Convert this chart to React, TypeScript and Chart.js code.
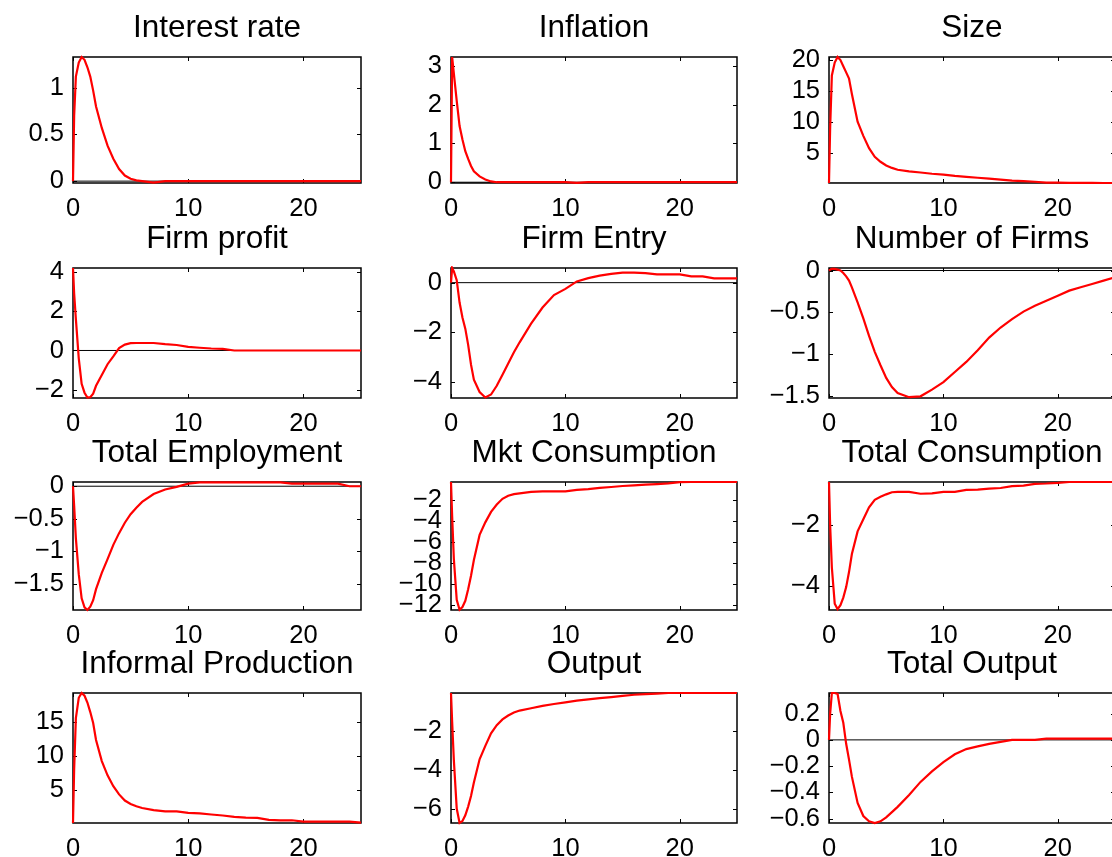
import React, { useEffect, useRef } from "react";
import { Chart, registerables } from "chart.js";

Chart.register(...registerables);

// ---------- data ----------
const X = [0, 0.1, 0.25, 0.5, 0.75, 1, 1.25, 1.5, 1.75, 2, 2.5, 3, 3.5, 4, 4.5, 5, 5.5, 6, 7, 8, 9, 10, 11, 12, 13, 14, 15, 16, 17, 18, 19, 20, 21, 22, 23, 24, 25];

const TITLES = [
  "Interest rate", "Inflation", "Size",
  "Firm profit", "Firm Entry", "Number of Firms",
  "Total Employment", "Mkt Consumption", "Total Consumption",
  "Informal Production", "Output", "Total Output",
];

const interestRate = [0, 0.7, 1.12, 1.27, 1.33, 1.3, 1.22, 1.12, 0.97, 0.8, 0.57, 0.38, 0.24, 0.13, 0.06, 0.025, 0.008, 0, -0.015, 0, 0, 0, 0, 0, 0, 0, 0, 0, 0, 0, 0, 0, 0, 0, 0, 0, 0];
const inflation = [0, 3.23, 2.8, 2.1, 1.45, 1.1, 0.8, 0.6, 0.42, 0.28, 0.15, 0.07, 0.02, 0, 0, 0, 0, 0, 0, 0, 0, 0, -0.015, 0, 0, 0, 0, 0, 0, 0, 0, 0, 0, 0, 0, 0, 0];
const size = [0.05, 9, 17.5, 19.6, 20.5, 20, 19, 18, 17, 14.5, 10, 7.7, 5.7, 4.3, 3.5, 2.9, 2.5, 2.2, 1.95, 1.75, 1.55, 1.4, 1.2, 1.05, 0.9, 0.75, 0.6, 0.45, 0.35, 0.25, 0.12, 0.1, 0.08, 0.07, 0.06, 0.05, 0.05];
const firmProfit = [4.2, 2.9, 1.6, -0.4, -1.7, -2.15, -2.4, -2.38, -2.2, -1.8, -1.25, -0.7, -0.3, 0.12, 0.3, 0.37, 0.38, 0.38, 0.38, 0.32, 0.28, 0.18, 0.14, 0.1, 0.08, 0, 0, 0, 0, 0, 0, 0, 0, 0, 0, 0, 0];
const firmEntry = [0, 0.59, 0.45, 0.1, -0.8, -1.4, -1.85, -2.5, -3.3, -3.9, -4.4, -4.62, -4.5, -4.15, -3.7, -3.25, -2.8, -2.4, -1.65, -1.0, -0.5, -0.25, 0.05, 0.18, 0.28, 0.35, 0.4, 0.4, 0.38, 0.33, 0.33, 0.33, 0.25, 0.25, 0.17, 0.17, 0.17];
const numberOfFirms = [0, 0.01, 0.02, 0.02, 0.01, 0, -0.03, -0.07, -0.12, -0.2, -0.38, -0.57, -0.78, -0.97, -1.13, -1.28, -1.39, -1.46, -1.51, -1.5, -1.42, -1.33, -1.21, -1.09, -0.95, -0.8, -0.68, -0.58, -0.49, -0.42, -0.36, -0.3, -0.24, -0.2, -0.16, -0.12, -0.08];
const totalEmployment = [0, -0.3, -0.8, -1.35, -1.72, -1.86, -1.9, -1.85, -1.75, -1.58, -1.33, -1.12, -0.9, -0.72, -0.56, -0.43, -0.33, -0.24, -0.12, -0.05, -0.01, 0.04, 0.06, 0.06, 0.06, 0.06, 0.06, 0.06, 0.06, 0.06, 0.04, 0.04, 0.04, 0.04, 0.04, 0, 0];
const mktConsumption = [-0.24, -3.5, -7.6, -11.5, -12.45, -12.2, -11.6, -10.5, -9.2, -7.7, -5.3, -4.1, -3.1, -2.4, -1.85, -1.55, -1.4, -1.33, -1.18, -1.14, -1.14, -1.14, -1.0, -0.92, -0.8, -0.72, -0.62, -0.56, -0.5, -0.45, -0.38, -0.26, -0.24, -0.24, -0.24, -0.24, -0.24];
const totalConsumption = [-0.56, -2.0, -3.4, -4.6, -4.78, -4.65, -4.4, -4.05, -3.55, -2.95, -2.2, -1.8, -1.4, -1.15, -1.05, -0.97, -0.9, -0.89, -0.89, -0.95, -0.94, -0.89, -0.89, -0.82, -0.81, -0.78, -0.76, -0.7, -0.68, -0.62, -0.61, -0.59, -0.56, -0.56, -0.56, -0.56, -0.56];
const informalProduction = [0.1, 8, 15.5, 18.5, 19.2, 18.8, 17.8, 16.4, 14.8, 12.3, 9.2, 7.1, 5.5, 4.3, 3.4, 2.9, 2.55, 2.3, 2.0, 1.8, 1.8, 1.6, 1.5, 1.35, 1.2, 1.0, 0.9, 0.85, 0.55, 0.5, 0.5, 0.3, 0.3, 0.3, 0.3, 0.3, 0.15];
const output = [-0.01, -1.5, -3.5, -6.0, -6.75, -6.65, -6.35, -5.9, -5.35, -4.65, -3.45, -2.75, -2.1, -1.68, -1.38, -1.18, -1.02, -0.92, -0.8, -0.68, -0.58, -0.5, -0.41, -0.34, -0.28, -0.22, -0.16, -0.1, -0.07, -0.04, -0.01, -0.01, -0.01, -0.01, -0.01, -0.01, -0.01];
const totalOutput = [0, 0.2, 0.357, 0.357, 0.35, 0.22, 0.13, -0.03, -0.15, -0.28, -0.48, -0.58, -0.62, -0.633, -0.62, -0.59, -0.55, -0.51, -0.42, -0.32, -0.24, -0.17, -0.11, -0.07, -0.05, -0.03, -0.015, 0, 0, 0, 0.01, 0.01, 0.01, 0.01, 0.01, 0.01, 0.01];

const SERIES = [
  interestRate, inflation, size,
  firmProfit, firmEntry, numberOfFirms,
  totalEmployment, mktConsumption, totalConsumption,
  informalProduction, output, totalOutput,
];

const Y_MIN = [-0.02, -0.02, 0.05, -2.42, -4.64, -1.52, -1.9, -12.48, -4.81, 0.1, -6.75, -0.633];
const Y_MAX = [1.33, 3.23, 20.5, 4.2, 0.59, 0.03, 0.065, -0.24, -0.56, 19.2, -0.01, 0.357];

const Y_TICKS = [
  [0, 0.5, 1], [0, 1, 2, 3], [5, 10, 15, 20],
  [-2, 0, 2, 4], [-4, -2, 0], [-1.5, -1, -0.5, 0],
  [-1.5, -1, -0.5, 0], [-12, -10, -8, -6, -4, -2], [-4, -2],
  [5, 10, 15], [-6, -4, -2], [-0.6, -0.4, -0.2, 0, 0.2],
];
const X_TICKS = [0, 10, 20];
const X_MIN = 0;
const X_MAX = 25;

// ---------- layout ----------
const COL_LEFT = [73, 451, 829];
const COL_WIDTH = [288, 286, 286];
const ROW_TOP = [57, 268, 482, 693];
const ROW_HEIGHT = [126, 130, 128, 130];
const SIDE = 75;
const TITLE_H = 57;
const BOTTOM_H = 40;

const FONT = "'Liberation Sans', Arial, Helvetica, sans-serif";

const fmt = (v: number) => (v < 0 ? "\u2212" : "") + String(Math.abs(v));

const boxPlugin = {
  id: "matlabBox",
  beforeDatasetsDraw(chart: any) {
    const { ctx, chartArea } = chart;
    const { left, right, top, bottom } = chartArea;
    const xs = chart.scales.x;
    const ys = chart.scales.y;
    ctx.save();
    ctx.strokeStyle = "#000";
    ctx.lineWidth = 1.5;
    ctx.strokeRect(left, top, right - left, bottom - top);
    ctx.lineWidth = 1;
    const tl = 4;
    ctx.beginPath();
    xs.ticks.forEach((t: any) => {
      const px = Math.round(xs.getPixelForValue(t.value)) + 0.5;
      ctx.moveTo(px, bottom);
      ctx.lineTo(px, bottom - tl);
      ctx.moveTo(px, top);
      ctx.lineTo(px, top + tl);
    });
    ys.ticks.forEach((t: any) => {
      const py = Math.round(ys.getPixelForValue(t.value)) + 0.5;
      ctx.moveTo(left, py);
      ctx.lineTo(left + tl, py);
      ctx.moveTo(right, py);
      ctx.lineTo(right - tl, py);
    });
    ctx.stroke();
    ctx.restore();
  },
};

function Panel({ idx }: { idx: number }) {
  const ref = useRef<HTMLCanvasElement | null>(null);
  const col = idx % 3;
  const row = Math.floor(idx / 3);
  const plotW = COL_WIDTH[col];
  const plotH = ROW_HEIGHT[row];
  const W = plotW + 2 * SIDE;
  const H = plotH + TITLE_H + BOTTOM_H;
  const left = COL_LEFT[col] - SIDE;
  const top = ROW_TOP[row] - TITLE_H;

  useEffect(() => {
    if (!ref.current) return;
    const values = SERIES[idx];
    const chart = new Chart(ref.current, {
      type: "line",
      data: {
        datasets: [
          {
            data: X.map((x, i) => ({ x, y: values[i] })),
            borderColor: "#ff0000",
            borderWidth: 2.2,
            pointRadius: 0,
            tension: 0,
            fill: false,
            clip: 2,
          },
          {
            data: [{ x: X_MIN, y: 0 }, { x: X_MAX, y: 0 }],
            borderColor: "#000000",
            borderWidth: 1,
            pointRadius: 0,
            tension: 0,
            fill: false,
            clip: 0,
          },
        ],
      },
      options: {
        animation: false,
        responsive: false,
        maintainAspectRatio: false,
        layout: { padding: 0 },
        plugins: {
          legend: { display: false },
          tooltip: { enabled: false },
          title: {
            display: true,
            text: TITLES[idx],
            color: "#000",
            font: { family: FONT, size: 31.5, weight: "normal", lineHeight: 1.2 },
            padding: { top: 9.6, bottom: 9.6 },
          },
        },
        scales: {
          x: {
            type: "linear",
            min: X_MIN,
            max: X_MAX,
            grid: { display: false, drawTicks: false },
            border: { display: false },
            afterBuildTicks: (s: any) => {
              s.ticks = X_TICKS.map((v) => ({ value: v }));
            },
            afterFit: (s: any) => {
              s.height = BOTTOM_H;
            },
            ticks: {
              color: "#000",
              font: { family: FONT, size: 25.5 },
              padding: 11,
              maxRotation: 0,
              autoSkip: false,
              callback: (v: any) => fmt(Number(v)),
            },
          },
          y: {
            type: "linear",
            position: "left",
            min: Y_MIN[idx],
            max: Y_MAX[idx],
            grid: { display: false, drawTicks: false },
            border: { display: false },
            afterBuildTicks: (s: any) => {
              s.ticks = Y_TICKS[idx].map((v) => ({ value: v }));
            },
            afterFit: (s: any) => {
              s.width = SIDE;
            },
            ticks: {
              color: "#000",
              font: { family: FONT, size: 25.5 },
              padding: 9,
              autoSkip: false,
              callback: (v: any) => fmt(Number(v)),
            },
          },
          yRight: {
            type: "linear",
            position: "right",
            display: true,
            min: 0,
            max: 1,
            grid: { display: false, drawTicks: false },
            border: { display: false },
            ticks: { display: false },
            afterBuildTicks: (s: any) => {
              s.ticks = [];
            },
            afterFit: (s: any) => {
              s.width = SIDE;
            },
          },
        },
      },
      plugins: [boxPlugin],
    } as any);
    return () => chart.destroy();
  }, [idx]);

  return (
    <canvas
      ref={ref}
      width={W}
      height={H}
      style={{ position: "absolute", left, top, width: W, height: H }}
    />
  );
}

export default function App() {
  return (
    <div
      style={{
        position: "fixed",
        left: 0,
        top: 0,
        width: 1112,
        height: 857,
        overflow: "hidden",
        background: "#fff",
      }}
    >
      {TITLES.map((_, i) => (
        <Panel key={i} idx={i} />
      ))}
    </div>
  );
}
